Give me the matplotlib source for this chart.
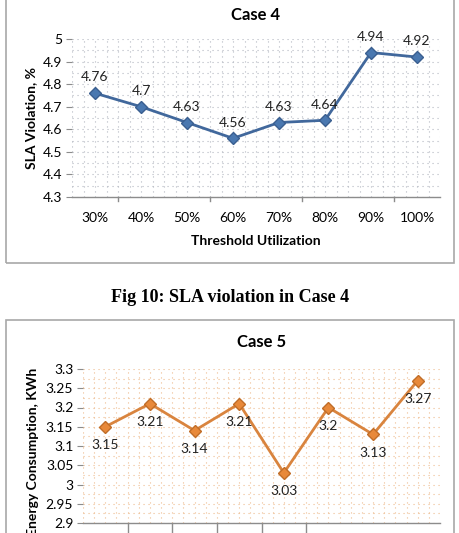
import matplotlib
matplotlib.use("Agg")
import matplotlib.pyplot as plt
from matplotlib.patches import Rectangle
from matplotlib.ticker import MultipleLocator, FixedLocator
import numpy as np

plt.rcParams['font.family'] = ['Lato', 'DejaVu Sans']

categories = ["30%", "40%", "50%", "60%", "70%", "80%", "90%", "100%"]
sla_case4 = [4.76, 4.70, 4.63, 4.56, 4.63, 4.64, 4.94, 4.92]
energy_case5 = [3.15, 3.21, 3.14, 3.21, 3.03, 3.20, 3.13, 3.27]
caption = "Fig 10: SLA violation in Case 4"

W, H = 459, 533
fig = plt.figure(figsize=(W / 100, H / 100), dpi=100)

def px_rect(x0, y0, x1, y1):
    return [x0 / W, 1 - y1 / H, (x1 - x0) / W, (y1 - y0) / H]

# panel borders
fig.patches.append(Rectangle((5.5 / W, 1 - 263 / H), 448.5 / W, 265 / H,
                             transform=fig.transFigure, fill=False,
                             edgecolor='#a8a8a8', linewidth=1.2))
fig.patches.append(Rectangle((5.5 / W, -0.02), 448.5 / W, (533 - 320) / H + 0.02,
                             transform=fig.transFigure, fill=False,
                             edgecolor='#a8a8a8', linewidth=1.2))

x = np.arange(len(categories))
FS = 10

def style_axes(ax, gridcolor):
    for s in ['top', 'right', 'left']:
        ax.spines[s].set_visible(False)
    ax.spines['bottom'].set_color('#8c8c8c')
    ax.spines['bottom'].set_linewidth(1.0)
    ax.tick_params(axis='y', which='major', length=4, color='#8c8c8c', labelsize=FS, pad=3)
    ax.tick_params(axis='y', which='minor', length=0)
    ax.tick_params(axis='x', which='both', length=0, labelsize=FS, pad=11)
    ax.grid(True, which='both', linestyle=(0, (1, 3.5)), color=gridcolor, linewidth=0.8)
    ax.set_axisbelow(True)

# ---- top chart (Case 4)
ax1 = fig.add_axes(px_rect(72, 39, 440, 197))
ax1.plot(x, sla_case4, color='#41689c', linewidth=2, marker='D', markersize=6.5,
         markerfacecolor='#4a78b0', markeredgecolor='#3a5f90', zorder=3)
ax1.set_xlim(-0.5, len(categories) - 0.5)
ax1.set_ylim(4.3, 5.0)
yt1 = np.round(np.arange(4.3, 5.01, 0.1), 1)
ax1.set_yticks(yt1)
ax1.set_yticklabels([f"{v:g}" for v in yt1])
ax1.yaxis.set_minor_locator(MultipleLocator(0.05))
ax1.set_xticks(x)
ax1.set_xticklabels(categories)
ax1.xaxis.set_minor_locator(FixedLocator(np.arange(-0.5, 7.6, 0.25)))
style_axes(ax1, '#b4b8c2')
for xi, v in zip(x, sla_case4):
    ax1.annotate(f"{v:g}", (xi, v), textcoords='offset points', xytext=(0, 7),
                 ha='center', va='bottom', fontsize=FS, color='#222222')
for b in [0.5, 2.5, 4.5, 6.5]:
    ax1.plot([b, b], [4.3, 4.3 - 0.016], color='#8c8c8c', lw=1, clip_on=False)
ax1.set_title("Case 4", fontsize=12, fontweight='bold', pad=14)
ax1.set_xlabel("Threshold Utilization", fontsize=FS, fontweight='bold', labelpad=8)
ax1.set_ylabel("SLA Violation, %", fontsize=FS, fontweight='bold', labelpad=4)

# ---- caption
fig.text(230 / W, 1 - 298 / H, caption, ha='center', va='center',
         fontsize=13, fontweight='bold', family='Liberation Serif')

# ---- bottom chart (Case 5)
ax2 = fig.add_axes(px_rect(83, 369, 440, 523))
ax2.plot(x, energy_case5, color='#d9843e', linewidth=2, marker='D', markersize=6.5,
         markerfacecolor='#e8893a', markeredgecolor='#c06d28', zorder=3)
ax2.set_xlim(-0.5, len(categories) - 0.5)
ax2.set_ylim(2.9, 3.3)
yt2 = np.round(np.arange(2.9, 3.301, 0.05), 2)
ax2.set_yticks(yt2)
ax2.set_yticklabels([f"{v:g}" for v in yt2])
ax2.yaxis.set_minor_locator(MultipleLocator(0.025))
ax2.set_xticks(x)
ax2.set_xticklabels([])
ax2.xaxis.set_minor_locator(FixedLocator(np.arange(-0.5, 7.6, 0.25)))
style_axes(ax2, '#eebc90')
for b in [0.5, 1.5, 2.5, 3.5, 4.5]:
    ax2.plot([b, b], [2.9, 2.9 - 0.03], color='#8c8c8c', lw=1, clip_on=False)
for xi, v in zip(x, energy_case5):
    ax2.annotate(f"{v:g}", (xi, v), textcoords='offset points', xytext=(0, -9),
                 ha='center', va='top', fontsize=FS, color='#222222')
ax2.set_title("Case 5", fontsize=12, fontweight='bold', pad=16)
fig.text(33 / W, 1 - 368 / H, "Energy Consumption, KWh", rotation=90,
         ha='center', va='top', fontsize=FS, fontweight='bold')

fig.savefig("out.png", dpi=100)
